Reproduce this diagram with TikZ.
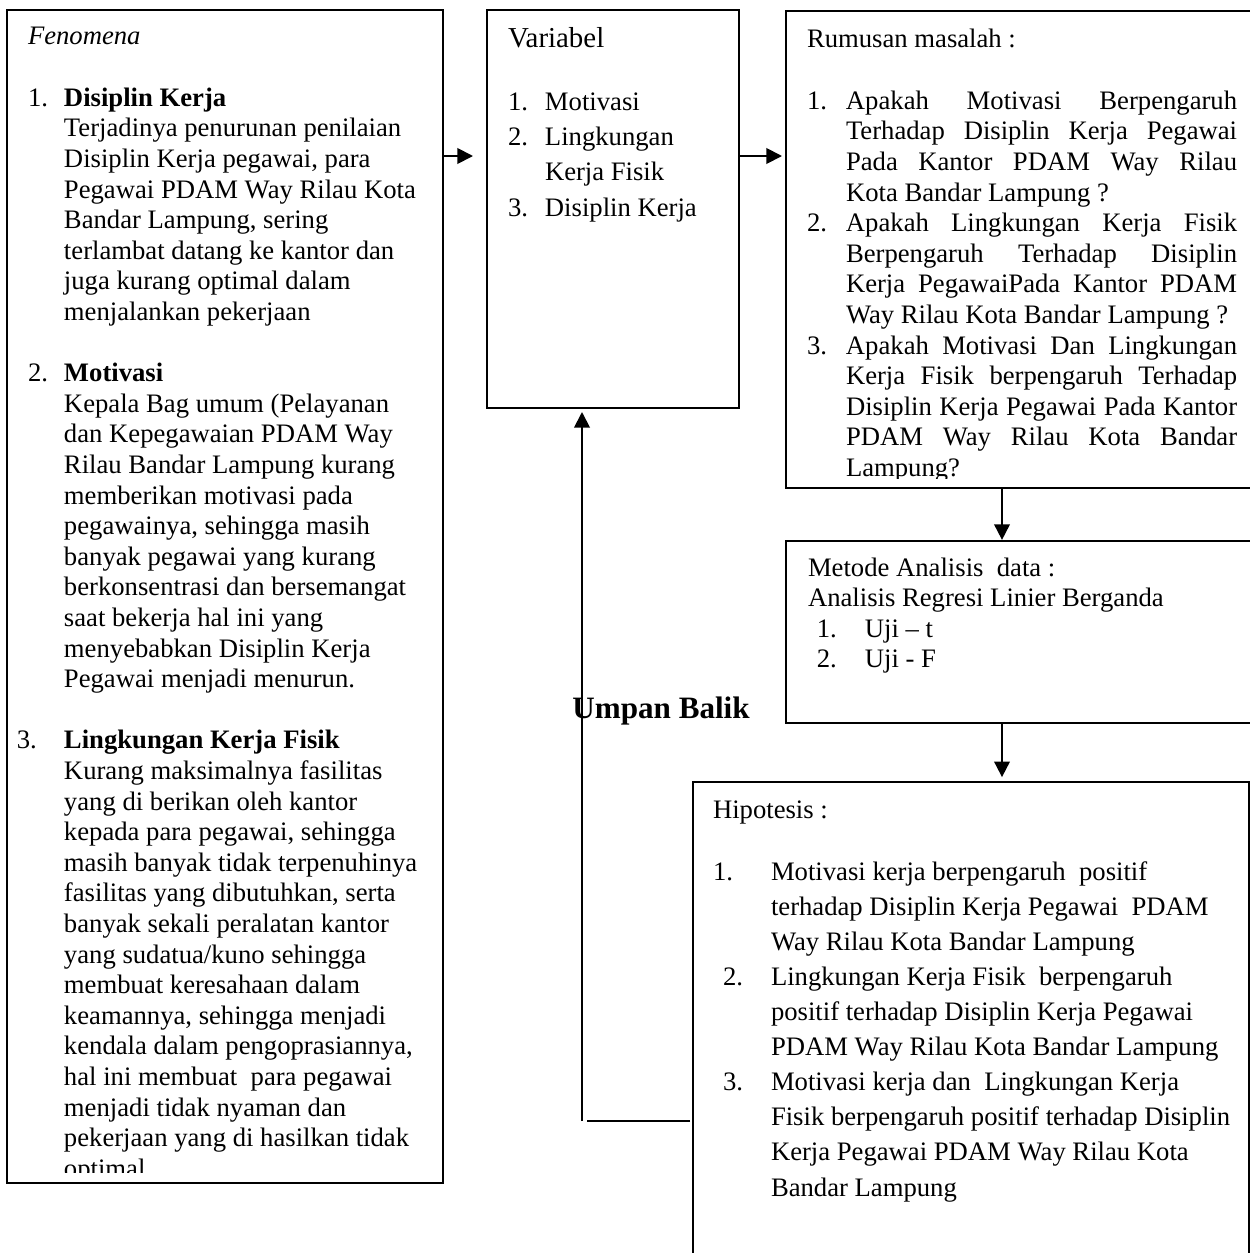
\documentclass[tikz,border=0pt]{standalone}
\usepackage{fontspec}
\setmainfont{Liberation Serif}
\usetikzlibrary{arrows.meta}
\newcommand{\mynum}[2]{\makebox[#1][l]{#2}}
\newcommand{\jl}[1]{\makebox[176pt][s]{#1}}
\newcommand{\fin}{\hspace*{16.2pt}}
\newcommand{\rin}{\hspace*{17.55pt}}
\newcommand{\hin}{\hspace*{26.1pt}}
\begin{document}
\begin{tikzpicture}[x=0.45pt,y=-0.45pt,
  box/.style={draw, line width=0.85pt, anchor=north west, inner sep=0pt, outer sep=0pt},
  txt/.style={inner sep=0pt, outer sep=0pt, anchor=base west, font=\fontsize{12}{13.77}\selectfont},
  conn/.style={line width=0.85pt},
  arr/.style={conn, -{Triangle[length=7pt,width=7pt]}},
]
\useasboundingbox (0,0) rectangle (1250,1253);
\clip (0,0) rectangle (1250,1253);

% boxes
\node[box, minimum width=196.2pt, minimum height=527.85pt] (fen) at (7,10) {};
\node[box, minimum width=113.4pt, minimum height=179.1pt] (var) at (487,10) {};
\node[box, minimum width=231.3pt, minimum height=214.65pt] (rum) at (786,11) {};
\node[box, minimum width=231.3pt, minimum height=81.9pt] (met) at (786,541) {};
\node[box, minimum width=250.2pt, minimum height=233.1pt] (hip) at (693,782) {};

% Fenomena text
\begin{scope}
\clip (7,10) rectangle (443,1172);
\node[txt] (fentext) at (28,45) {\begin{tabular}[t]{@{}l@{}}
{\itshape Fenomena}\\
\\
\mynum{16.2pt}{1.}\textbf{Disiplin Kerja}\\
\fin Terjadinya penurunan penilaian\\
\fin Disiplin Kerja pegawai, para\\
\fin Pegawai PDAM Way Rilau Kota\\
\fin Bandar Lampung, sering\\
\fin terlambat datang ke kantor dan\\
\fin juga kurang optimal dalam\\
\fin menjalankan pekerjaan\\
\\
\mynum{16.2pt}{2.}\textbf{Motivasi}\\
\fin Kepala Bag umum (Pelayanan\\
\fin dan Kepegawaian PDAM Way\\
\fin Rilau Bandar Lampung kurang\\
\fin memberikan motivasi pada\\
\fin pegawainya, sehingga masih\\
\fin banyak pegawai yang kurang\\
\fin berkonsentrasi dan bersemangat\\
\fin saat bekerja hal ini yang\\
\fin menyebabkan Disiplin Kerja\\
\fin Pegawai menjadi menurun.\\
\\
\hspace*{-5pt}\mynum{21.2pt}{3.}\textbf{Lingkungan Kerja Fisik}\\
\fin Kurang maksimalnya fasilitas\\
\fin yang di berikan oleh kantor\\
\fin kepada para pegawai, sehingga\\
\fin masih banyak tidak terpenuhinya\\
\fin fasilitas yang dibutuhkan, serta\\
\fin banyak sekali peralatan kantor\\
\fin yang sudatua/kuno sehingga\\
\fin membuat keresahaan dalam\\
\fin keamannya, sehingga menjadi\\
\fin kendala dalam pengoprasiannya,\\
\fin hal ini membuat\ \ para pegawai\\
\fin menjadi tidak nyaman dan\\
\fin pekerjaan yang di hasilkan tidak\\
\fin optimal
\end{tabular}};
\end{scope}

% Variabel text
\node[txt, font=\fontsize{13}{15}\selectfont] (vartitle) at (508,47) {Variabel};
\node[txt, font=\fontsize{12}{15.9}\selectfont] (varitems) at (508,110) {\begin{tabular}[t]{@{}l@{}}
\mynum{16.65pt}{1.}Motivasi\\
\mynum{16.65pt}{2.}Lingkungan\\
\hspace*{16.65pt}Kerja Fisik\\
\mynum{16.65pt}{3.}Disiplin Kerja
\end{tabular}};

% Rumusan text
\begin{scope}
\clip (786,11) rectangle (1250,478);
\node[txt] (rumtext) at (807,48) {\begin{tabular}[t]{@{}l@{}}
Rumusan masalah :\\
\\
\mynum{17.55pt}{1.}\jl{Apakah Motivasi Berpengaruh}\\
\rin\jl{Terhadap Disiplin Kerja Pegawai}\\
\rin\jl{Pada Kantor PDAM Way Rilau}\\
\rin Kota Bandar Lampung ?\\
\mynum{17.55pt}{2.}\jl{Apakah Lingkungan Kerja Fisik}\\
\rin\jl{Berpengaruh Terhadap Disiplin}\\
\rin\jl{Kerja PegawaiPada Kantor PDAM}\\
\rin Way Rilau Kota Bandar Lampung ?\\
\mynum{17.55pt}{3.}\jl{Apakah Motivasi Dan Lingkungan}\\
\rin\jl{Kerja Fisik berpengaruh Terhadap}\\
\rin\jl{Disiplin Kerja Pegawai Pada Kantor}\\
\rin\jl{PDAM Way Rilau Kota Bandar}\\
\rin Lampung?
\end{tabular}};
\end{scope}

% Metode text
\node[txt] (mettext) at (808,576) {\begin{tabular}[t]{@{}l@{}}
Metode Analisis\ \ data :\\
Analisis Regresi Linier Berganda\\
\hspace*{4pt}\mynum{21.6pt}{1.}Uji – t\\
\hspace*{4pt}\mynum{21.6pt}{2.}Uji - F
\end{tabular}};

% Hipotesis text
\node[txt] (hiptitle) at (713,818) {Hipotesis :};
\node[txt, font=\fontsize{12}{15.8}\selectfont] (hipitems) at (713,880) {\begin{tabular}[t]{@{}l@{}}
\mynum{26.1pt}{1.}Motivasi kerja berpengaruh\ \ positif\\
\hin terhadap Disiplin Kerja Pegawai\ \ PDAM\\
\hin Way Rilau Kota Bandar Lampung\\
\hspace*{4.5pt}\mynum{21.6pt}{2.}Lingkungan Kerja Fisik\ \ berpengaruh\\
\hin positif terhadap Disiplin Kerja Pegawai\\
\hin PDAM Way Rilau Kota Bandar Lampung\\
\hspace*{4.5pt}\mynum{21.6pt}{3.}Motivasi kerja dan\ \ Lingkungan Kerja\\
\hin Fisik berpengaruh positif terhadap Disiplin\\
\hin Kerja Pegawai PDAM Way Rilau Kota\\
\hin Bandar Lampung
\end{tabular}};

% feedback label
\node[inner sep=0pt, anchor=base west, font=\fontsize{14}{16}\selectfont\bfseries] (ub) at (572,718) {Umpan Balik};

% connectors
\coordinate (ya) at (0,156);
\coordinate (xd) at (1002,0);
\coordinate (fb) at (582,1121);
\draw[arr, shorten >=6.3pt] (fen.east |- ya) -- (var.west |- ya);
\draw[arr, shorten >=1.8pt] (var.east |- ya) -- (rum.west |- ya);
\draw[arr, shorten >=0.5pt] (rum.south -| xd) -- (met.north -| xd);
\draw[arr, shorten >=2.2pt] (met.south -| xd) -- (hip.north -| xd);
\draw[conn, shorten <=1.3pt, shorten >=2.2pt] (hip.west |- fb) -- (fb);
\draw[arr, shorten >=1.8pt] (fb) -- (var.south -| fb);
\end{tikzpicture}
\end{document}
